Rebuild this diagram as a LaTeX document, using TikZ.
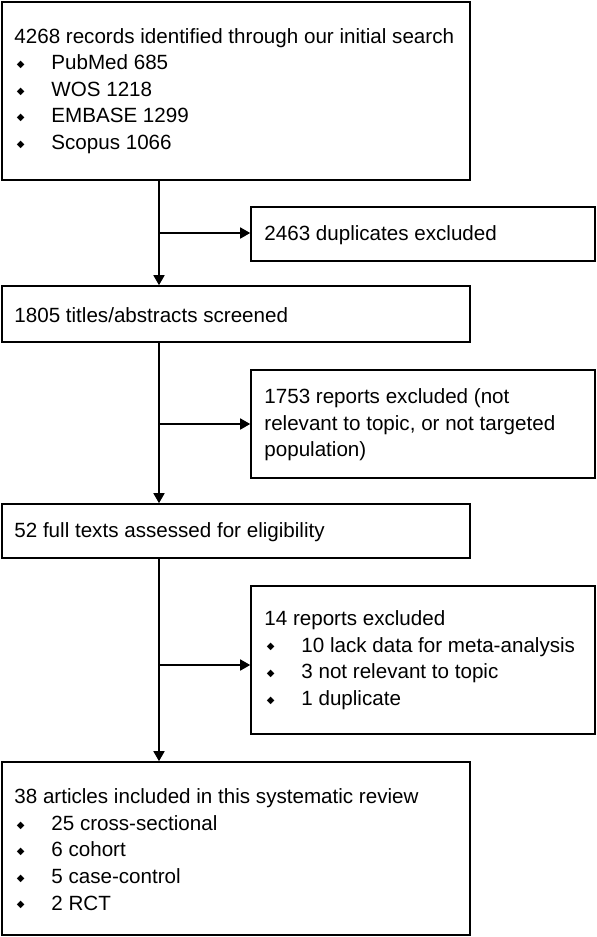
\documentclass[tikz,border=0pt]{standalone}
\usepackage{fontspec}
\setmainfont{Liberation Sans}
\newfontfamily\symfont{DejaVu Sans}
\usetikzlibrary{arrows.meta}
\newcommand{\bul}{\makebox[37pt][l]{\hspace{2.5pt}\raisebox{2.2pt}{\symfont\fontsize{10}{10}\selectfont ◆}}}
\begin{document}
\begin{tikzpicture}[x=1pt,y=1pt,
  box/.style={draw=black, line width=1.6pt, rectangle, inner sep=0pt},
  txt/.style={anchor=west, align=left, inner sep=0pt, font=\fontsize{20.6}{26.6}\selectfont},
  arr/.style={line width=1.6pt, -{Triangle[length=10pt,width=11pt]}},
  ln/.style={line width=1.6pt}]
\useasboundingbox[fill=white] (0,0) rectangle (597,-937);
% boxes
\node[box, minimum width=468pt, minimum height=178pt] (b1) at (236,-91) {};
\node[box, minimum width=344pt, minimum height=54pt] (d1) at (423,-234) {};
\node[box, minimum width=468pt, minimum height=56pt] (b2) at (236,-314) {};
\node[box, minimum width=344pt, minimum height=108pt] (e1) at (423,-424) {};
\node[box, minimum width=468pt, minimum height=54pt] (b3) at (236,-531) {};
\node[box, minimum width=344pt, minimum height=148pt] (e2) at (423,-660) {};
\node[box, minimum width=468pt, minimum height=173pt] (b4) at (236,-848.5) {};
% texts
\node[txt] (t1) at ([xshift=13pt]b1.west) {4268 records identified through our initial search\\
\bul PubMed 685\\
\bul WOS 1218\\
\bul EMBASE 1299\\
\bul Scopus 1066};
\node[txt] (td) at ([xshift=14pt,yshift=-1pt]d1.west) {2463 duplicates excluded};
\node[txt] (t2) at ([xshift=13pt,yshift=-1pt]b2.west) {1805 titles/abstracts screened};
\node[txt] (te1) at ([xshift=14pt,yshift=-1pt]e1.west) {1753 reports excluded (not\\
relevant to topic, or not targeted\\
population)};
\node[txt] (t3) at ([xshift=13pt,yshift=-1pt]b3.west) {52 full texts assessed for eligibility};
\node[txt] (te2) at ([xshift=14pt]e2.west) {14 reports excluded\\
\bul 10 lack data for meta-analysis\\
\bul 3 not relevant to topic\\
\bul 1 duplicate};
\node[txt] (t4) at ([xshift=13pt,yshift=-1pt]b4.west) {38 articles included in this systematic review\\
\bul 25 cross-sectional\\
\bul 6 cohort\\
\bul 5 case-control\\
\bul 2 RCT};
% connectors
\coordinate (xl) at (159,0);
\coordinate (j1) at (159,-233);
\coordinate (j2) at (159,-424);
\coordinate (j3) at (159,-665);
\draw[arr] (b1.south -| xl) -- (b2.north -| xl);
\draw[arr] (j1) -- (j1 -| d1.west);
\draw[arr] (b2.south -| xl) -- (b3.north -| xl);
\draw[arr] (j2) -- (j2 -| e1.west);
\draw[arr] (b3.south -| xl) -- (b4.north -| xl);
\draw[arr] (j3) -- (j3 -| e2.west);
\end{tikzpicture}
\end{document}
